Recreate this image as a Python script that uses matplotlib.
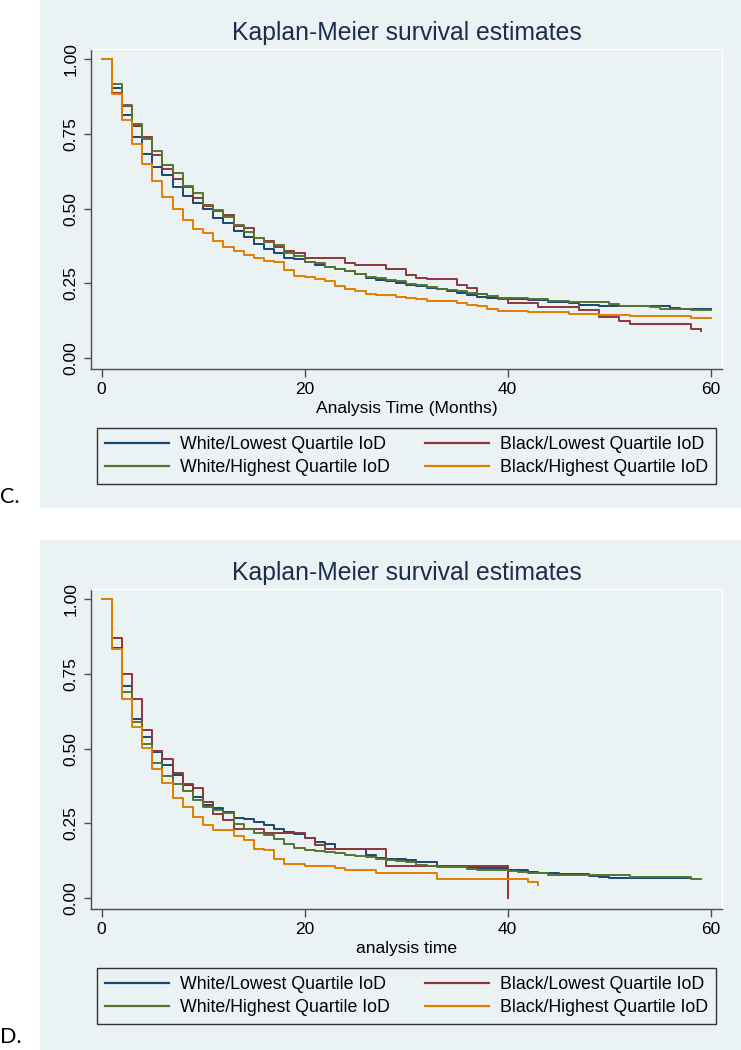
import numpy as np
import matplotlib
matplotlib.use('Agg')
import matplotlib.pyplot as plt
from matplotlib.patches import Rectangle

plt.rcParams['font.family'] = ['Liberation Sans', 'DejaVu Sans']

# survival estimates, one value per month interval [k, k+1)
labels = ['White/Lowest Quartile IoD', 'Black/Lowest Quartile IoD',
          'White/Highest Quartile IoD', 'Black/Highest Quartile IoD']
colors = ['#1a476f', '#90353b', '#55752f', '#e37e00']

c_blue = [1.000, 0.905, 0.814, 0.741, 0.683, 0.640, 0.614, 0.572, 0.543, 0.519,
          0.498, 0.469, 0.452, 0.425, 0.405, 0.382, 0.366, 0.352, 0.335, 0.330,
          0.321, 0.313, 0.304, 0.297, 0.290, 0.282, 0.268, 0.262, 0.257, 0.251,
          0.243, 0.240, 0.234, 0.230, 0.223, 0.219, 0.210, 0.204, 0.201, 0.201,
          0.199, 0.199, 0.193, 0.193, 0.188, 0.188, 0.184, 0.179, 0.179, 0.174,
          0.174, 0.174, 0.174, 0.174, 0.173, 0.173, 0.168, 0.165, 0.165, 0.165]
c_red = [1.000, 0.886, 0.845, 0.778, 0.741, 0.680, 0.634, 0.599, 0.574, 0.536,
         0.510, 0.492, 0.478, 0.441, 0.435, 0.401, 0.393, 0.371, 0.357, 0.351,
         0.334, 0.334, 0.334, 0.334, 0.319, 0.310, 0.310, 0.310, 0.299, 0.299,
         0.279, 0.269, 0.263, 0.263, 0.263, 0.243, 0.234, 0.215, 0.206, 0.196,
         0.185, 0.185, 0.185, 0.171, 0.171, 0.171, 0.171, 0.160, 0.160, 0.137,
         0.137, 0.124, 0.113, 0.113, 0.113, 0.113, 0.113, 0.113, 0.0985, 0.090]
c_green = [1.000, 0.917, 0.848, 0.783, 0.732, 0.694, 0.647, 0.620, 0.576, 0.551,
           0.512, 0.494, 0.471, 0.447, 0.423, 0.401, 0.390, 0.377, 0.352, 0.341,
           0.323, 0.318, 0.304, 0.297, 0.290, 0.282, 0.271, 0.268, 0.262, 0.257,
           0.249, 0.243, 0.238, 0.232, 0.229, 0.224, 0.218, 0.215, 0.206, 0.202,
           0.202, 0.202, 0.199, 0.199, 0.192, 0.192, 0.187, 0.187, 0.187, 0.187,
           0.181, 0.175, 0.175, 0.175, 0.170, 0.165, 0.163, 0.163, 0.159, 0.159]
c_orange = [1.000, 0.883, 0.797, 0.716, 0.649, 0.594, 0.540, 0.499, 0.462, 0.432,
            0.419, 0.391, 0.372, 0.357, 0.346, 0.336, 0.325, 0.321, 0.293, 0.274,
            0.271, 0.265, 0.257, 0.240, 0.230, 0.225, 0.213, 0.210, 0.210, 0.205,
            0.201, 0.196, 0.190, 0.190, 0.190, 0.184, 0.179, 0.174, 0.163, 0.156,
            0.156, 0.156, 0.153, 0.153, 0.153, 0.153, 0.147, 0.147, 0.147, 0.145,
            0.145, 0.145, 0.141, 0.141, 0.141, 0.141, 0.141, 0.141, 0.133, 0.133]
c_ends = [60, 59.05, 60, 60]

d_blue = [1.000, 0.836, 0.709, 0.601, 0.540, 0.490, 0.444, 0.411, 0.380, 0.339,
          0.312, 0.300, 0.287, 0.269, 0.263, 0.254, 0.244, 0.230, 0.221, 0.213,
          0.202, 0.188, 0.182, 0.165, 0.163, 0.163, 0.144, 0.133, 0.132, 0.132,
          0.128, 0.121, 0.121, 0.106, 0.106, 0.106, 0.104, 0.099, 0.099, 0.099,
          0.093, 0.093, 0.087, 0.085, 0.085, 0.081, 0.081, 0.081, 0.074, 0.070,
          0.066, 0.066, 0.066, 0.066, 0.066, 0.066, 0.066, 0.066]
d_red = [1.000, 0.871, 0.751, 0.666, 0.562, 0.493, 0.466, 0.417, 0.383, 0.369,
         0.320, 0.280, 0.262, 0.232, 0.232, 0.232, 0.216, 0.216, 0.216, 0.216,
         0.202, 0.179, 0.163, 0.163, 0.163, 0.163, 0.163, 0.163, 0.107, 0.107,
         0.107, 0.107, 0.107, 0.107, 0.107, 0.107, 0.107, 0.107, 0.107, 0.107,
         0.000]
d_green = [1.000, 0.834, 0.689, 0.588, 0.517, 0.453, 0.408, 0.383, 0.358, 0.328,
           0.304, 0.294, 0.283, 0.249, 0.230, 0.218, 0.210, 0.196, 0.182, 0.168,
           0.160, 0.157, 0.154, 0.149, 0.143, 0.141, 0.138, 0.132, 0.128, 0.123,
           0.119, 0.110, 0.107, 0.104, 0.104, 0.104, 0.098, 0.095, 0.093, 0.093,
           0.091, 0.087, 0.082, 0.082, 0.077, 0.077, 0.077, 0.077, 0.076, 0.076,
           0.076, 0.076, 0.070, 0.070, 0.070, 0.070, 0.070, 0.070, 0.064]
d_orange = [1.000, 0.834, 0.667, 0.572, 0.503, 0.433, 0.386, 0.336, 0.306, 0.271,
            0.243, 0.229, 0.229, 0.207, 0.193, 0.165, 0.160, 0.132, 0.113, 0.113,
            0.107, 0.107, 0.107, 0.099, 0.093, 0.093, 0.093, 0.085, 0.085, 0.085,
            0.085, 0.085, 0.085, 0.062, 0.062, 0.062, 0.062, 0.062, 0.062, 0.062,
            0.062, 0.062, 0.053, 0.042]
d_ends = [58, 40, 59, 43]

xticks = [0, 20, 40, 60]
yticks = [0, 0.25, 0.5, 0.75, 1.0]
ytick_labels = ['0.00', '0.25', '0.50', '0.75', '1.00']

BG = '#eaf2f3'
W, H = 741, 1050

fig = plt.figure(figsize=(W / 100, H / 100), dpi=100)
fig.patch.set_facecolor('white')


def panel(off, bg_top, bg_bot, series, ends, xlabel, letter):
    fig.add_artist(Rectangle((40 / W, 1 - bg_bot / H), (W - 40) / W, (bg_bot - bg_top) / H,
                             transform=fig.transFigure, facecolor=BG, edgecolor='none', zorder=0))
    top, bot = off + 49.3, off + 369
    ax = fig.add_axes([91 / W, 1 - bot / H, (722 - 91) / W, (bot - top) / H])
    ax.set_facecolor(BG)
    lines = []
    for vals, end, col, lab in zip(series, ends, colors, labels):
        t = np.arange(len(vals))
        ln, = ax.step(np.append(t, end), np.append(vals, vals[-1]), where='post',
                      color=col, lw=1.4, label=lab)
        lines.append(ln)
    ax.set_xlim(-1.04, 61.1)
    ax.set_ylim(-0.037, 1.034)
    ax.set_xticks(xticks)
    ax.set_yticks(yticks)
    ax.set_yticklabels(ytick_labels, rotation=90, va='center')
    ax.tick_params(axis='x', length=6, width=1, color='#4d4d4d', labelsize=12.5, pad=3)
    ax.tick_params(axis='y', length=5, width=1, color='#4d4d4d', labelsize=12.5, pad=4)
    for s in ['left', 'bottom']:
        ax.spines[s].set_color('#4d4d4d')
        ax.spines[s].set_linewidth(1.0)
    for s in ['top', 'right']:
        ax.spines[s].set_color('white')
        ax.spines[s].set_linewidth(1.0)
    ax.set_title('Kaplan-Meier survival estimates', fontsize=17.8, color='#1c2c4c', pad=7)
    ax.set_xlabel(xlabel, fontsize=12.6, labelpad=3.5)

    lx0, lx1 = 97, 716
    ly0, ly1 = off + 427, off + 484
    order = [0, 2, 1, 3]
    leg = fig.legend([lines[i] for i in order], [labels[i] for i in order],
                     loc='lower left', ncol=2, mode='expand',
                     bbox_to_anchor=(lx0 / W, 1 - ly1 / H, (lx1 - lx0) / W, (ly1 - ly0) / H),
                     bbox_transform=fig.transFigure, borderaxespad=0,
                     fontsize=12.8, handlelength=3.6, handletextpad=0.6,
                     borderpad=0.45, labelspacing=0.35, fancybox=False,
                     frameon=True, edgecolor='#333333', facecolor=BG, framealpha=1)
    leg.get_frame().set_linewidth(1.0)
    for ln in leg.get_lines():
        ln.set_linewidth(1.6)
    fig.text(0.0, 1 - (off + 497) / H, letter, fontsize=15.5, family=['Lato', 'DejaVu Sans'],
             va='center', ha='left')


panel(0, 0, 508, [c_blue, c_red, c_green, c_orange], c_ends, 'Analysis Time (Months)', 'C.')
panel(540, 540, 1050, [d_blue, d_red, d_green, d_orange], d_ends, 'analysis time', 'D.')

fig.savefig('out.png', dpi=100, facecolor=fig.get_facecolor())
